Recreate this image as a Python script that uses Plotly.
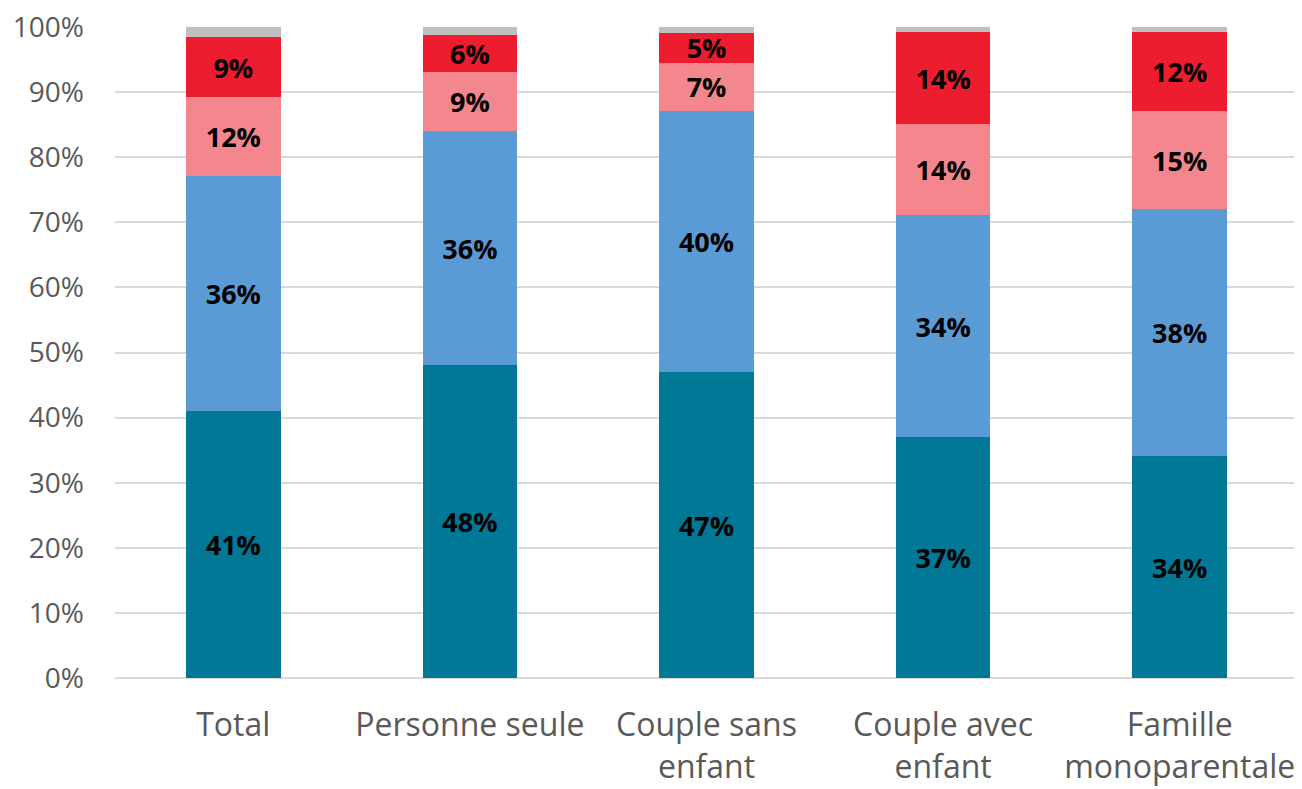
import plotly.graph_objects as go

categories = ["Total", "Personne seule", "Couple sans<br>enfant", "Couple avec<br>enfant", "Famille<br>monoparentale"]
s1 = [41.0, 48.1, 47.0, 37.0, 34.1]
s2 = [36.1, 35.9, 40.1, 34.1, 37.9]
s3 = [12.1, 9.1, 7.4, 14.0, 15.1]
s4 = [9.3, 5.7, 4.6, 14.1, 12.1]
s5 = [1.5, 1.2, 0.9, 0.8, 0.8]
colors = ["#007896", "#5B9BD5", "#F4878D", "#ED1C2E", "#BFBFBF"]
series = [s1, s2, s3, s4, s5]
ticks = [0, 10, 20, 30, 40, 50, 60, 70, 80, 90, 100]

fig = go.Figure()
for i, (vals, c) in enumerate(zip(series, colors)):
    labelled = i < 4
    fig.add_trace(go.Bar(
        x=categories, y=vals, marker=dict(color=c, line=dict(width=0)),
        text=[f"{round(v)}%" for v in vals] if labelled else None,
        textposition="inside" if labelled else "none",
        insidetextanchor="middle", textangle=0, constraintext="none",
        textfont=dict(family="Open Sans", size=27, color="black", weight="bold"),
        hoverinfo="skip", showlegend=False,
    ))

fig.update_layout(
    barmode="stack", bargap=0.6,
    width=1294, height=781,
    margin=dict(l=107, r=4, t=19, b=111, autoexpand=False),
    plot_bgcolor="white", paper_bgcolor="white",
    font=dict(family="Open Sans", color="#595959", size=28),
    showlegend=False,
)
fig.update_yaxes(
    range=[0, 100], tickvals=ticks, ticktext=[f"{t}%" for t in ticks],
    showgrid=True, gridcolor="#D9D9D9", gridwidth=2,
    zeroline=True, zerolinecolor="#D9D9D9", zerolinewidth=2,
    tickfont=dict(size=28, color="#595959"), ticklabelstandoff=30,
    ticklabeloverflow="allow",
    showline=False, automargin=False,
)
fig.update_xaxes(
    tickfont=dict(size=32, color="#595959"), ticklabelstandoff=25,
    ticklabeloverflow="allow",
    showline=False, automargin=False,
)
fig.write_html("out.html")
